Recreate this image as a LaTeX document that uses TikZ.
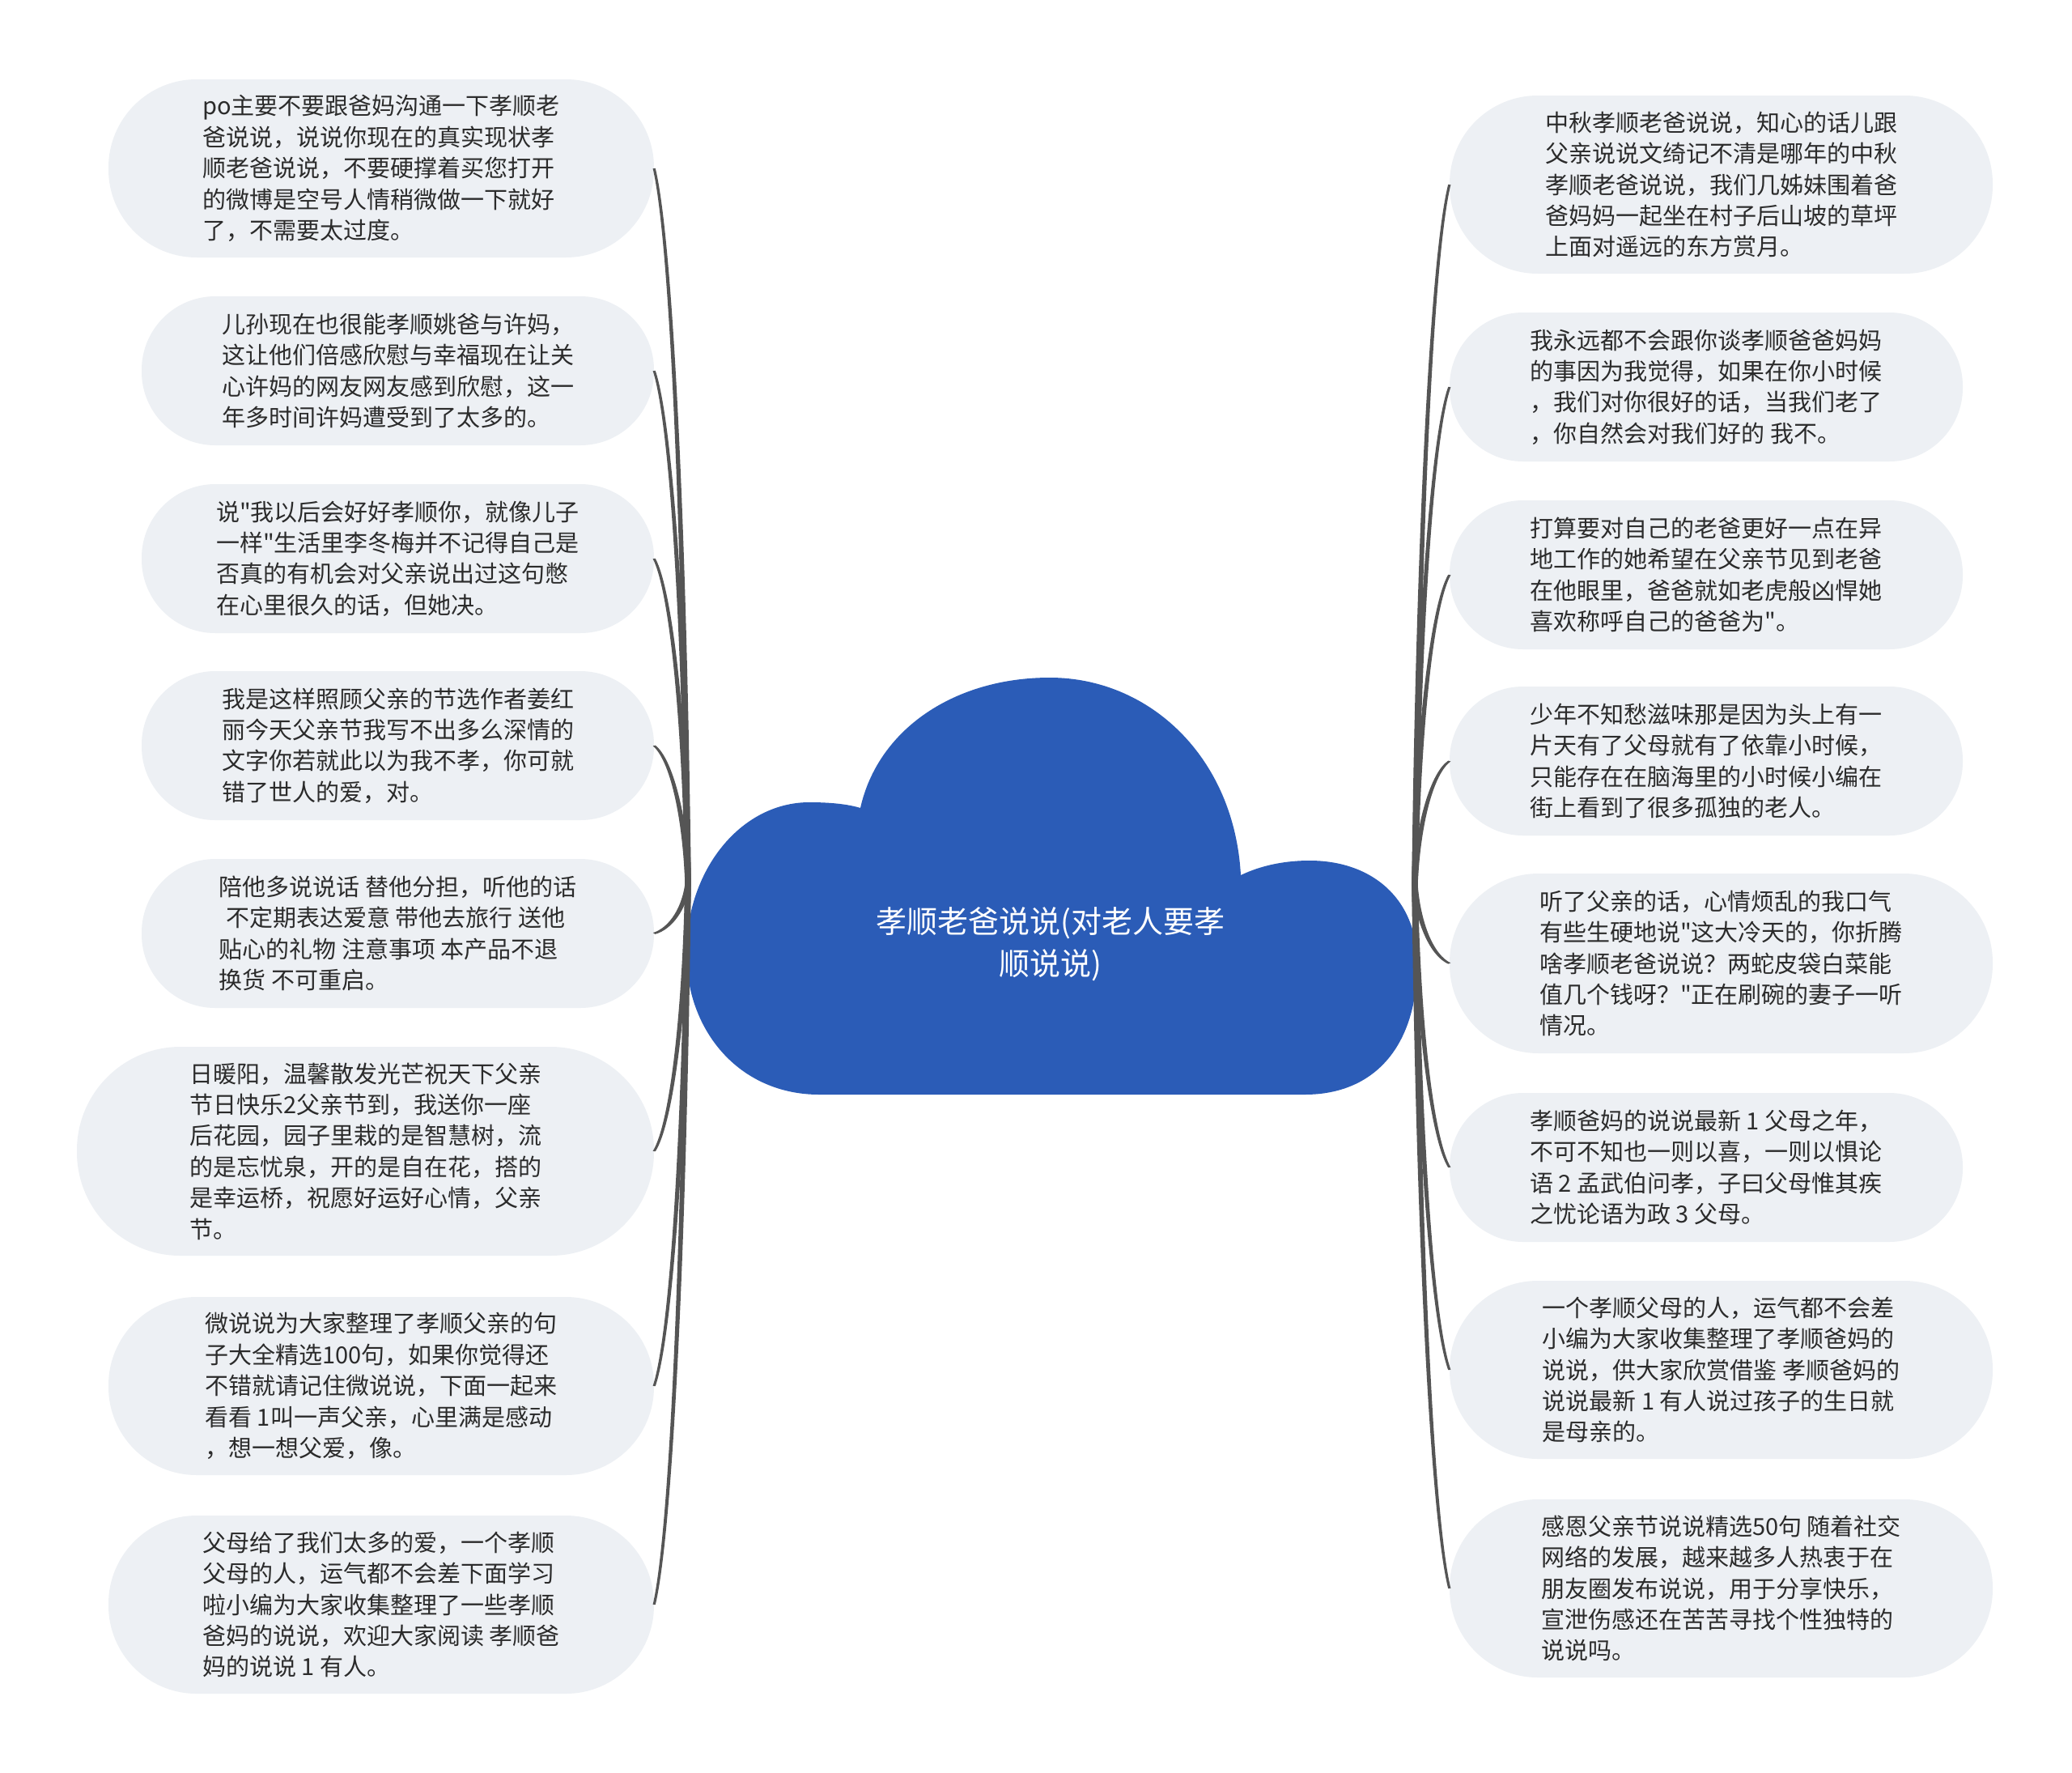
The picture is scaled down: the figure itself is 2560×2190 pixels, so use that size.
\documentclass[tikz,border=0pt]{standalone}
\usepackage{fontspec}
\setmainfont[Ligatures=TeXOff]{Noto Sans CJK SC}
\usetikzlibrary{calc}
\definecolor{nodefill}{HTML}{EDF0F4}
\definecolor{txt}{HTML}{2B2B2B}
\definecolor{cloudc}{HTML}{2B5CB7}
\definecolor{linkc}{HTML}{555555}
\newcommand\conn[2]{%
\fill[linkc] let \p1=(#1), \p2=(#2),
  \n1={atan2(\y2-\y1,\x2-\x1)},
  \n2={-sin(\n1)}, \n3={cos(\n1)}
 in ({\x1+3.8*(\n2)}, {\y1+3.8*(\n3)})
 .. controls ({\x1+0.1*(\x2-\x1)+2.8*(\n2)}, {\y1+0.5*(\y2-\y1)+2.8*(\n3)})
 and ({\x2-0.5*(\x2-\x1)+2.0*(\n2)}, {\y2-0.1*(\y2-\y1)+2.0*(\n3)})
 .. ({\x2+1.6*(\n2)}, {\y2+1.6*(\n3)})
 -- ({\x2-1.6*(\n2)}, {\y2-1.6*(\n3)})
 .. controls ({\x2-0.5*(\x2-\x1)-2.0*(\n2)}, {\y2-0.1*(\y2-\y1)-2.0*(\n3)})
 and ({\x1+0.1*(\x2-\x1)-2.8*(\n2)}, {\y1+0.5*(\y2-\y1)-2.8*(\n3)})
 .. ({\x1-3.8*(\n2)}, {\y1-3.8*(\n3)}) -- cycle;}
\tikzset{
  box/.style n args={3}{draw=none, fill=nodefill, text=txt, align=left,
    minimum width=#1, minimum height=#2, rounded corners=#3, inner sep=0pt,
    font=\fontsize{29pt}{38.4pt}\selectfont},
  titletext/.style={text=white, align=center, font=\fontsize{38pt}{52pt}\selectfont}
}
\begin{document}
\begin{tikzpicture}[x=1pt,y=-1pt]
\useasboundingbox (0,0) rectangle (2560,2190);
\fill[white] (0,0) rectangle (2560,2190);
% cloud
\fill[cloudc] (1012,1352) .. controls (915,1352) and (848,1275) .. (848,1177)
  .. controls (848,1075) and (915,991) .. (1000,991)
  .. controls (1030,991) and (1050,994) .. (1063,998)
  .. controls (1085,900) and (1180,837) .. (1297,837)
  .. controls (1420,837) and (1525,935) .. (1533,1081)
  .. controls (1560,1068) and (1590,1063) .. (1618,1063)
  .. controls (1695,1063) and (1751,1110) .. (1751,1190)
  .. controls (1751,1290) and (1700,1352) .. (1612,1352) -- cycle;
\node[titletext] (root) at (1298,1166) {孝顺老爸说说(对老人要孝\\顺说说)};
\coordinate (hubL) at (850,1090);
\coordinate (hubR) at (1748,1092);
% left nodes
\node[box={674pt}{220pt}{109pt}] (l1) at (471,208) {po主要不要跟爸妈沟通一下孝顺老\\爸说说，说说你现在的真实现状孝\\顺老爸说说，不要硬撑着买您打开\\的微博是空号人情稍微做一下就好\\了，不需要太过度。};
\node[box={633pt}{184pt}{91pt}] (l2) at (491.5,458) {儿孙现在也很能孝顺姚爸与许妈，\\这让他们倍感欣慰与幸福现在让关\\心许妈的网友网友感到欣慰，这一\\年多时间许妈遭受到了太多的。};
\node[box={633pt}{184pt}{91pt}] (l3) at (491.5,690) {说"我以后会好好孝顺你，就像儿子\\一样"生活里李冬梅并不记得自己是\\否真的有机会对父亲说出过这句憋\\在心里很久的话，但她决。};
\node[box={633pt}{184pt}{91pt}] (l4) at (491.5,921) {我是这样照顾父亲的节选作者姜红\\丽今天父亲节我写不出多么深情的\\文字你若就此以为我不孝，你可就\\错了世人的爱，对。};
\node[box={633pt}{184pt}{91pt}] (l5) at (491.5,1153) {陪他多说说话 替他分担，听他的话\\\hspace*{0.3em}不定期表达爱意 带他去旅行 送他\\贴心的礼物 注意事项 本产品不退\\换货 不可重启。};
\node[box={713pt}{258pt}{128pt}] (l6) at (451.5,1422) {日暖阳，温馨散发光芒祝天下父亲\\节日快乐2父亲节到，我送你一座\\后花园，园子里栽的是智慧树，流\\的是忘忧泉，开的是自在花，搭的\\是幸运桥，祝愿好运好心情，父亲\\节。};
\node[box={674pt}{220pt}{109pt}] (l7) at (471,1712) {微说说为大家整理了孝顺父亲的句\\子大全精选100句，如果你觉得还\\不错就请记住微说说，下面一起来\\看看 1叫一声父亲，心里满是感动\\，想一想父爱，像。};
\node[box={674pt}{220pt}{109pt}] (l8) at (471,1982) {父母给了我们太多的爱，一个孝顺\\父母的人，运气都不会差下面学习\\啦小编为大家收集整理了一些孝顺\\爸妈的说说，欢迎大家阅读 孝顺爸\\妈的说说 1 有人。};
% right nodes
\node[box={671pt}{220pt}{109pt}] (r1) at (2126.5,228) {中秋孝顺老爸说说，知心的话儿跟\\父亲说说文绮记不清是哪年的中秋\\孝顺老爸说说，我们几姊妹围着爸\\爸妈妈一起坐在村子后山坡的草坪\\上面对遥远的东方赏月。};
\node[box={634pt}{184pt}{91pt}] (r2) at (2108,478) {我永远都不会跟你谈孝顺爸爸妈妈\\的事因为我觉得，如果在你小时候\\，我们对你很好的话，当我们老了\\，你自然会对我们好的 我不。};
\node[box={634pt}{184pt}{91pt}] (r3) at (2108,710) {打算要对自己的老爸更好一点在异\\地工作的她希望在父亲节见到老爸\\在他眼里，爸爸就如老虎般凶悍她\\喜欢称呼自己的爸爸为"。};
\node[box={634pt}{184pt}{91pt}] (r4) at (2108,940) {少年不知愁滋味那是因为头上有一\\片天有了父母就有了依靠小时候，\\只能存在在脑海里的小时候小编在\\街上看到了很多孤独的老人。};
\node[box={671pt}{222pt}{110pt}] (r5) at (2126.5,1190) {听了父亲的话，心情烦乱的我口气\\有些生硬地说"这大冷天的，你折腾\\啥孝顺老爸说说？两蛇皮袋白菜能\\值几个钱呀？"正在刷碗的妻子一听\\情况。};
\node[box={634pt}{184pt}{91pt}] (r6) at (2108,1442) {孝顺爸妈的说说最新 1 父母之年，\\不可不知也一则以喜，一则以惧论\\语 2 孟武伯问孝，子曰父母惟其疾\\之忧论语为政 3 父母。};
\node[box={671pt}{220pt}{109pt}] (r7) at (2126.5,1692) {一个孝顺父母的人，运气都不会差\\小编为大家收集整理了孝顺爸妈的\\说说，供大家欣赏借鉴 孝顺爸妈的\\说说最新 1 有人说过孩子的生日就\\是母亲的。};
\node[box={671pt}{220pt}{109pt}] (r8) at (2126.5,1962) {感恩父亲节说说精选50句 随着社交\\网络的发展，越来越多人热衷于在\\朋友圈发布说说，用于分享快乐，\\宣泄伤感还在苦苦寻找个性独特的\\说说吗。};
% connectors
\foreach \nd in {l1,l2,l3,l4,l5,l6,l7,l8} {\conn{hubL}{\nd.east}}
\foreach \nd in {r1,r2,r3,r4,r5,r6,r7,r8} {\conn{hubR}{\nd.west}}
\end{tikzpicture}
\end{document}
